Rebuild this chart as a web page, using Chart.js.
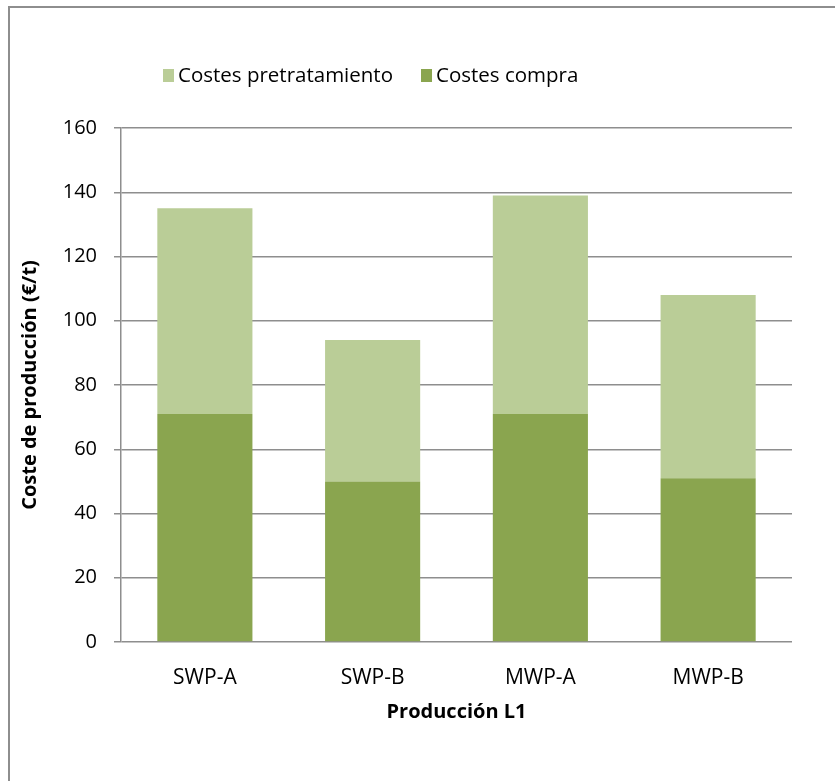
<!DOCTYPE html>
<html>
<head>
<meta charset="utf-8">
<script src="https://cdn.jsdelivr.net/npm/chart.js@4.4.1/dist/chart.umd.min.js"></script>
<style>
  html, body { margin: 0; padding: 0; background: #fff; overflow: hidden; }
  #wrap { position: relative; width: 835px; height: 781px; overflow: hidden; }
  #frame { position: absolute; left: 8px; top: 6px; width: 840px; height: 790px;
           border: 2px solid #8e8e8e; box-sizing: border-box; pointer-events: none; }
  canvas { position: absolute; left: 0; top: 0; }
</style>
</head>
<body>
<div id="wrap">
  <canvas id="c" width="835" height="781"></canvas>
  <div id="frame"></div>
</div>
<script>
// Production cost per route (€/t)
const categories = ['SWP-A', 'SWP-B', 'MWP-A', 'MWP-B'];
const costesCompra = [71, 50, 71, 51];
const costesPretratamiento = [64, 44, 68, 57];
const yMin = 0;
const yMax = 160;
const yStep = 20;

const FONT = '"Open Sans", "Liberation Sans", sans-serif';
const COLOR_COMPRA = '#8aa54f';
const COLOR_PRETRAT = '#bacd97';
const GRID = '#8e8e8e';

// Legend drawn above the plot, pretreatment first
const costLegend = {
  id: 'costLegend',
  afterDraw(chart) {
    const ctx = chart.ctx;
    ctx.save();
    ctx.font = '20.5px ' + FONT;
    ctx.textBaseline = 'middle';
    ctx.textAlign = 'left';
    let x = 163;
    const y = 75;
    [1, 0].forEach(i => {
      const ds = chart.data.datasets[i];
      ctx.fillStyle = ds.backgroundColor;
      ctx.fillRect(x, y - 6, 11, 13);
      x += 15;
      ctx.fillStyle = '#000';
      ctx.fillText(ds.label, x, y + 1);
      x += ctx.measureText(ds.label).width + 28;
    });
    ctx.restore();
  }
};

new Chart(document.getElementById('c'), {
  type: 'bar',
  data: {
    labels: categories,
    datasets: [
      { label: 'Costes compra', data: costesCompra, backgroundColor: COLOR_COMPRA,
        borderWidth: 0, categoryPercentage: 1, barPercentage: 0.567 },
      { label: 'Costes pretratamiento', data: costesPretratamiento, backgroundColor: COLOR_PRETRAT,
        borderWidth: 0, categoryPercentage: 1, barPercentage: 0.567 }
    ]
  },
  options: {
    responsive: false,
    animation: false,
    layout: { padding: { top: 128, right: 43, left: 0, bottom: 0 } },
    plugins: {
      legend: { display: false },
      tooltip: { enabled: false }
    },
    scales: {
      x: {
        stacked: true,
        grid: { display: false },
        border: { display: false },
        ticks: { color: '#000', font: { family: FONT, size: 21 }, padding: 15 },
        title: { display: true, text: 'Producción L1', color: '#000',
                 font: { family: FONT, size: 20, weight: 'bold' },
                 padding: { top: 0, bottom: 57 } },
        afterFit(scale) { scale.height = 139; }
      },
      y: {
        stacked: true,
        min: yMin,
        max: yMax,
        ticks: { stepSize: yStep, color: '#000', font: { family: FONT, size: 20 }, padding: 17 },
        grid: { color: GRID, lineWidth: 1.5, tickLength: 7, drawTicks: true },
        border: { display: true, color: GRID, width: 1.5 },
        title: { display: true, text: 'Coste de producción (€/t)', color: '#000',
                 font: { family: FONT, size: 20, weight: 'bold' },
                 padding: { top: 18, bottom: 0 } },
        afterFit(scale) { scale.width = 121; }
      }
    }
  },
  plugins: [costLegend]
});
</script>
</body>
</html>
